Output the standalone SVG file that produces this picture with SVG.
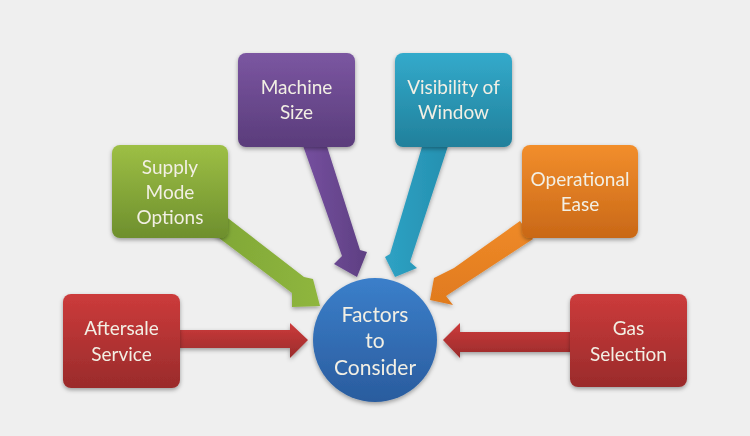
<svg xmlns="http://www.w3.org/2000/svg" width="750" height="436" viewBox="0 0 750 436">
<defs>
<linearGradient id="gRed" x1="0" y1="0" x2="0" y2="1"><stop offset="0" stop-color="#cc3b3b"/><stop offset="1" stop-color="#9a2b2b"/></linearGradient>
<linearGradient id="gGreen" x1="0" y1="0" x2="0" y2="1"><stop offset="0" stop-color="#9dbf45"/><stop offset="1" stop-color="#6e8f2d"/></linearGradient>
<linearGradient id="gPurple" x1="0" y1="0" x2="0" y2="1"><stop offset="0" stop-color="#7b56a1"/><stop offset="1" stop-color="#5a3c7b"/></linearGradient>
<linearGradient id="gTeal" x1="0" y1="0" x2="0" y2="1"><stop offset="0" stop-color="#33aacb"/><stop offset="1" stop-color="#21809b"/></linearGradient>
<linearGradient id="gOrange" x1="0" y1="0" x2="0" y2="1"><stop offset="0" stop-color="#f28e2c"/><stop offset="1" stop-color="#c96817"/></linearGradient>
<linearGradient id="gBlue" x1="0" y1="0" x2="0" y2="1"><stop offset="0" stop-color="#3b7fca"/><stop offset="1" stop-color="#2a5c9e"/></linearGradient>
<linearGradient id="aGreen" x1="0" y1="0" x2="1" y2="0"><stop offset="0" stop-color="#7fa636"/><stop offset="1" stop-color="#8fb63e"/></linearGradient>
<linearGradient id="aPurple" x1="0" y1="0" x2="1" y2="0"><stop offset="0" stop-color="#7650a0"/><stop offset="1" stop-color="#5e3f82"/></linearGradient>
<linearGradient id="aTeal" x1="0" y1="0" x2="1" y2="0"><stop offset="0" stop-color="#2ea2c4"/><stop offset="1" stop-color="#2590b0"/></linearGradient>
<linearGradient id="aOrange" x1="0" y1="0" x2="0" y2="1"><stop offset="0" stop-color="#ef8a28"/><stop offset="1" stop-color="#e07a1e"/></linearGradient>
<filter id="sh" x="-20%" y="-20%" width="140%" height="150%"><feDropShadow dx="0" dy="2" stdDeviation="2" flood-color="#000" flood-opacity="0.35"/></filter>
</defs>
<style>
.t{font-family:Lato,"Open Sans","Liberation Sans",sans-serif;font-size:19px;fill:#f2efe4;text-anchor:middle}
.tc{font-size:21px}
</style>
<rect width="750" height="436" fill="#efefef"/>
<g id="connectors" filter="url(#sh)">
<polygon fill="url(#gRed)" points="175,330 290,330 290,323 308,340 290,358 290,348 175,348"/>
<polygon fill="url(#gRed)" points="575,332 460,332 460,323 443,340 460,358 460,352 575,352"/>
<polygon fill="url(#aGreen)" points="220,212 304,277 313,279 320,306 292,307 292,293 207,229"/>
<polygon fill="url(#aPurple)" points="301,140 342,256 334,264 357,277 367,252 360,250 323,134"/>
<polygon fill="url(#aTeal)" points="424,140 390,254 385,257 395,277 417,268 410,262 448,146"/>
<polygon fill="url(#aOrange)" points="520,221 454,268 434,278 430,300 453,305 446,296 533,239"/>
</g>
<g id="aftersale" filter="url(#sh)"><rect x="63" y="294" width="117" height="94" rx="8" fill="url(#gRed)"/><text class="t" x="121.5" y="335">Aftersale</text><text class="t" x="121.5" y="361">Service</text></g>
<g id="gas" filter="url(#sh)"><rect x="570" y="294" width="117" height="93" rx="8" fill="url(#gRed)"/><text class="t" x="628.5" y="335">Gas</text><text class="t" x="628.5" y="361">Selection</text></g>
<g id="supply" filter="url(#sh)"><rect x="112" y="145" width="116" height="93" rx="8" fill="url(#gGreen)"/><text class="t" x="170" y="174">Supply</text><text class="t" x="170" y="199">Mode</text><text class="t" x="170" y="224">Options</text></g>
<g id="machine" filter="url(#sh)"><rect x="238" y="53" width="117" height="94" rx="8" fill="url(#gPurple)"/><text class="t" x="296.5" y="94">Machine</text><text class="t" x="296.5" y="119">Size</text></g>
<g id="visibility" filter="url(#sh)"><rect x="395" y="53" width="117" height="94" rx="8" fill="url(#gTeal)"/><text class="t" x="453.5" y="94">Visibility of</text><text class="t" x="453.5" y="119">Window</text></g>
<g id="operational" filter="url(#sh)"><rect x="522" y="145" width="116" height="93" rx="8" fill="url(#gOrange)"/><text class="t" x="580" y="186">Operational</text><text class="t" x="580" y="211">Ease</text></g>
<g id="factors" filter="url(#sh)"><circle cx="375" cy="340" r="62" fill="url(#gBlue)"/><text class="t tc" x="375" y="322">Factors</text><text class="t tc" x="375" y="348">to</text><text class="t tc" x="375" y="375">Consider</text></g>
</svg>
